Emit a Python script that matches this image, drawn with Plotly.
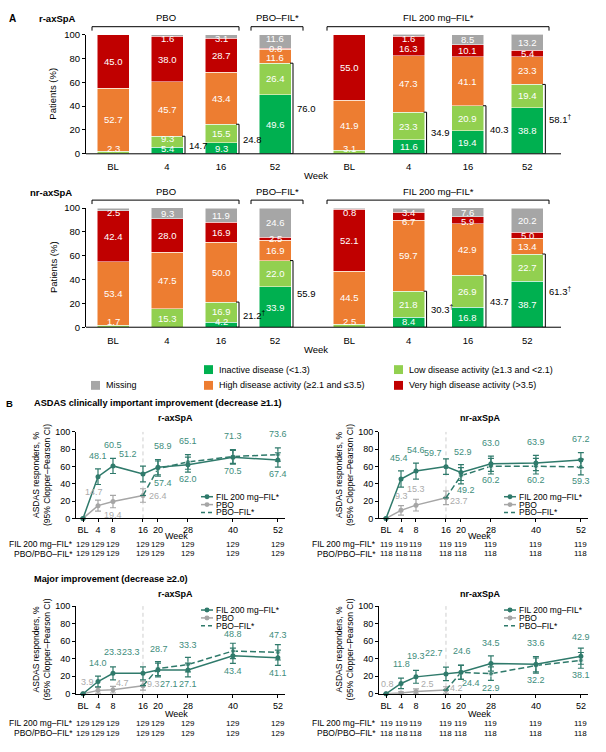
import plotly.graph_objects as go

W, H = 606, 752
FONT = "Liberation Sans, Arial, sans-serif"
TEAL = "#2F7A6B"
TEAL_TXT = "#3E8D7C"
GRAY = "#A6A6A6"
GRAY_TXT = "#ABABAB"

# ---------------- A: ASDAS disease activity states ----------------
weeks_a = ["BL", "4", "16", "52"]
state_names = ["Inactive disease (<1.3)", "Low disease activity (≥1.3 and <2.1)",
               "High disease activity (≥2.1 and ≤3.5)", "Very high disease activity (>3.5)",
               "Missing"]
state_colors = ["#00B050", "#92D050", "#ED7D31", "#C00000", "#A6A6A6"]

# r-axSpA, PBO / PBO-FIL* arm
r_pbo_inactive = [0, 5.4, 9.3, 49.6]
r_pbo_low = [2.3, 9.3, 15.5, 26.4]
r_pbo_high = [52.7, 45.7, 43.4, 11.6]
r_pbo_vhigh = [45.0, 38.0, 28.7, 0.8]
r_pbo_missing = [0, 1.6, 3.1, 11.6]
r_pbo_sum = [None, "14.7", "24.8", "76.0"]
# r-axSpA, FIL 200 mg arm
r_fil_inactive = [0, 11.6, 19.4, 38.8]
r_fil_low = [3.1, 23.3, 20.9, 19.4]
r_fil_high = [41.9, 47.3, 41.1, 23.3]
r_fil_vhigh = [55.0, 16.3, 10.1, 5.4]
r_fil_missing = [0, 1.6, 8.5, 13.2]
r_fil_sum = [None, "34.9", "40.3", "58.1<sup>†</sup>"]
# nr-axSpA, PBO / PBO-FIL* arm
nr_pbo_inactive = [0, 0, 4.2, 33.9]
nr_pbo_low = [1.7, 15.3, 16.9, 22.0]
nr_pbo_high = [53.4, 47.5, 50.0, 16.9]
nr_pbo_vhigh = [42.4, 28.0, 16.9, 2.5]
nr_pbo_missing = [2.5, 9.3, 11.9, 24.6]
nr_pbo_sum = [None, None, "21.2<sup>†</sup>", "55.9"]
# nr-axSpA, FIL 200 mg arm
nr_fil_inactive = [0, 8.4, 16.8, 38.7]
nr_fil_low = [2.5, 21.8, 26.9, 22.7]
nr_fil_high = [44.5, 59.7, 42.9, 13.4]
nr_fil_vhigh = [52.1, 6.7, 5.9, 5.0]
nr_fil_missing = [0.8, 3.4, 7.6, 20.2]
nr_fil_sum = [None, "30.3<sup>†</sup>", "43.7", "61.3<sup>†</sup>"]

# ---------------- B: ASDAS response over time ----------------
weeks_b = [0, 4, 8, 16, 20, 28, 40, 52]
week_b_labels = ["BL", "4", "8", "16", "20", "28", "40", "52"]
n_r_fil = [129, 129, 129, 129, 129, 129, 129, 129]
n_r_pbo = [129, 129, 129, 129, 129, 129, 129, 129]
n_nr_fil = [119, 119, 119, 119, 119, 119, 119, 119]
n_nr_pbo = [118, 118, 118, 118, 118, 118, 118, 118]

# clinically important improvement (decrease >=1.1)
cii_r_fil = [0, 48.1, 60.5, 51.2, 58.9, 62.0, 70.5, 67.4]
cii_r_fil_ci = [0, 9.0, 8.7, 9.0, 8.8, 8.6, 8.0, 8.3]
cii_r_pbo = [0, 14.7, 19.4, 26.4]
cii_r_pbo_ci = [0, 6.4, 7.1, 7.8]
cii_r_pbofil = [57.4, 65.1, 71.3, 73.6]
cii_r_pbofil_ci = [8.8, 8.4, 7.9, 7.7]

cii_nr_fil = [0, 45.4, 54.6, 59.7, 52.9, 63.0, 63.9, 67.2]
cii_nr_fil_ci = [0, 9.3, 9.2, 9.0, 9.2, 8.8, 8.8, 8.6]
cii_nr_pbo = [0, 9.3, 15.3, 23.7]
cii_nr_pbo_ci = [0, 5.5, 6.8, 7.9]
cii_nr_pbofil = [49.2, 60.2, 60.2, 59.3]
cii_nr_pbofil_ci = [9.3, 9.0, 9.0, 9.0]

# major improvement (decrease >=2.0)
mi_r_fil = [0, 14.0, 23.3, 23.3, 27.1, 27.1, 43.4, 41.1]
mi_r_fil_ci = [0, 6.2, 7.5, 7.5, 7.8, 7.8, 8.7, 8.7]
mi_r_pbo = [0, 3.9, 4.7, 9.3]
mi_r_pbo_ci = [0, 3.5, 3.8, 5.2]
mi_r_pbofil = [28.7, 33.3, 48.8, 47.3]
mi_r_pbofil_ci = [8.0, 8.3, 8.8, 8.8]

mi_nr_fil = [0, 11.8, 19.3, 22.7, 24.6, 34.5, 33.6, 42.9]
mi_nr_fil_ci = [0, 6.0, 7.3, 7.7, 8.0, 8.7, 8.7, 9.2]
mi_nr_pbo = [0, 0.8, 2.5, 4.2]
mi_nr_pbo_ci = [0, 1.5, 3.0, 3.8]
mi_nr_pbofil = [24.4, 22.9, 32.2, 38.1]
mi_nr_pbofil_ci = [8.0, 7.7, 8.6, 9.0]

# label nudges in px (dx, dy) relative to each point
cii_r_lab = dict(fil=[None, (0, 21), (0, 21), (-15, 20), (5, 21), (0, -14), (0, -14), (0, -14)],
                 pbofil=[(5, -14), (0, 21), (0, 21), (0, 21)],
                 pbo=[None, (-4, 14), (0, -13), (15, 0)])
cii_nr_lab = dict(fil=[None, (-2, 21), (0, 21), (-13, 14), (2, 21), (0, 21), (0, 21), (0, 21)],
                  pbofil=[(5, -14), (0, -14), (0, -14), (0, -14)],
                  pbo=[None, (0, 14), (0, 16), (13, -3)])
mi_r_lab = dict(fil=[None, (0, 19), (0, 21), (-12, 21), (11, -14), (0, -14), (0, -15), (0, -15)],
                pbofil=[(1, 20), (0, 20), (0, 17), (0, 17)],
                pbo=[None, (-11, 8), (10, 7), (11, 2)])
mi_nr_lab = dict(fil=[None, (0, 19), (0, 21), (-12, 21), (1, 21), (0, 21), (0, 21), (0, 19)],
                 pbofil=[(10, -11), (0, -14), (0, -14), (0, -15)],
                 pbo=[None, (-14, 9), (12, 8), (11, 2)])


def fx(p):
    return p / W


def fy(p):
    return 1 - p / H


fig = go.Figure()
shapes = []
annotations = []


def text(x, y, s, size=9.5, color="black", xa="paper", ya="paper", xanchor="center",
         yanchor="middle", angle=0, xshift=0, yshift=0):
    annotations.append(dict(x=x, y=y, xref=xa, yref=ya, text=s, showarrow=False,
                            font=dict(family=FONT, size=size, color=color),
                            xanchor=xanchor, yanchor=yanchor, textangle=angle,
                            xshift=xshift, yshift=yshift))


def seg(x0, y0, x1, y1, xa="paper", ya="paper", color="black", width=1, dash="solid", layer="above"):
    shapes.append(dict(type="line", x0=x0, y0=y0, x1=x1, y1=y1, xref=xa, yref=ya, layer=layer,
                       line=dict(color=color, width=width, dash=dash)))


def header(x0, x1, ytop, label):
    seg(fx(x0), fy(ytop), fx(x1), fy(ytop))
    seg(fx(x0), fy(ytop), fx(x0), fy(ytop + 4))
    seg(fx(x1), fy(ytop), fx(x1), fy(ytop + 4))
    text(fx((x0 + x1) / 2), fy(ytop - 9), label, size=9.5)


def stacked_panel(stack, sums, xa, ya, step):
    bw = 32 / step
    for vals, col, name in zip(stack, state_colors, state_names):
        fig.add_trace(go.Bar(x=weeks_a, y=vals, width=bw, name=name,
                             marker=dict(color=col, line=dict(color="white", width=0.5)),
                             xaxis=xa, yaxis=ya, showlegend=False, hoverinfo="skip"))
    for i in range(len(weeks_a)):
        base, items = 0.0, []
        for vals in stack:
            if vals[i] > 0:
                items.append([base + vals[i] / 2, vals[i]])
            base += vals[i]
        # keep small-segment labels apart
        items[0][0] = max(items[0][0], 4.5)
        for k in range(1, len(items)):
            items[k][0] = max(items[k][0], items[k - 1][0] + 8.5)
        items[-1][0] = min(items[-1][0], 96.5)
        for k in range(len(items) - 2, -1, -1):
            items[k][0] = min(items[k][0], items[k + 1][0] - 8)
        for ypos, v in items:
            text(i, ypos, f"{v:.1f}", color="white", xa=xa, ya=ya)
        if sums[i]:
            top = stack[0][i] + stack[1][i]
            xl = i + bw / 2 + 2 / step
            tk = 3 / step
            seg(xl, 0, xl, top, xa, ya)
            seg(xl - tk, top, xl, top, xa, ya)
            seg(xl - tk, 0, xl, 0, xa, ya)
            text(xl, top / 2, sums[i], xa=xa, ya=ya, xanchor="left", xshift=2)


stacked_panel([r_pbo_inactive, r_pbo_low, r_pbo_high, r_pbo_vhigh, r_pbo_missing], r_pbo_sum, "x", "y", 54)
stacked_panel([r_fil_inactive, r_fil_low, r_fil_high, r_fil_vhigh, r_fil_missing], r_fil_sum, "x2", "y", 59.3)
stacked_panel([nr_pbo_inactive, nr_pbo_low, nr_pbo_high, nr_pbo_vhigh, nr_pbo_missing], nr_pbo_sum, "x3", "y3", 54)
stacked_panel([nr_fil_inactive, nr_fil_low, nr_fil_high, nr_fil_vhigh, nr_fil_missing], nr_fil_sum, "x4", "y3", 59.3)

for off in (0, 176):
    header(92, 239, 21 + off, "PBO")
    header(251, 303, 21 + off, "PBO–FIL*")
    header(327, 549, 21 + off, "FIL 200 mg–FIL*")
seg(fx(86), fy(150), fx(561), fy(150))
seg(fx(86), fy(326), fx(561), fy(326))
text(fx(12), fy(13), "<b>A</b>", size=10)
text(fx(37), fy(13), "<b>r-axSpA</b>", size=9.5, xanchor="left")
text(fx(28), fy(189), "<b>nr-axSpA</b>", size=9.5, xanchor="left")
text(fx(53), fy(89), "Patients (%)", angle=-90)
text(fx(53), fy(265), "Patients (%)", angle=-90)
text(fx(316), fy(172), "Week")
text(fx(316), fy(349), "Week")

# legend for panel A
leg_a = [(0, 204, 369), (1, 394, 369), (4, 91, 385), (2, 204, 385), (3, 394, 385)]
for k, lx, ly in leg_a:
    shapes.append(dict(type="rect", xref="paper", yref="paper", x0=fx(lx), x1=fx(lx + 9),
                       y0=fy(ly + 4.5), y1=fy(ly - 4.5), fillcolor=state_colors[k], line=dict(width=0)))
    text(fx(lx + 13), fy(ly), state_names[k], size=9, xanchor="left")


# ---------------- line panels ----------------
def line_panel(fil, fil_ci, pbo, pbo_ci, pbofil, pbofil_ci, labs, n_fil, n_pbo,
               xa, ya, x_left, rows, leg_rows):
    seg(16, 0, 16, 100, xa, ya, color="#CFCFCF", width=1, dash="4px,3px", layer="below")
    fig.add_trace(go.Scatter(
        x=weeks_b[:len(pbo)], y=pbo, mode="lines+markers", xaxis=xa, yaxis=ya, cliponaxis=False,
        line=dict(color=GRAY, width=1.5), marker=dict(color=GRAY, size=5),
        error_y=dict(type="data", array=pbo_ci, arrayminus=[min(c, v) for c, v in zip(pbo_ci, pbo)],
                     color=GRAY, thickness=1.2, width=3),
        showlegend=False, hoverinfo="skip"))
    fig.add_trace(go.Scatter(
        x=[16] + weeks_b[4:], y=[pbo[-1]] + pbofil, mode="lines+markers", xaxis=xa, yaxis=ya,
        cliponaxis=False, line=dict(color=TEAL, width=1.5, dash="6px,3px"),
        marker=dict(color=TEAL, size=[0] + [5] * len(pbofil)),
        error_y=dict(type="data", array=[0] + pbofil_ci, color=TEAL, thickness=1.2, width=3),
        showlegend=False, hoverinfo="skip"))
    fig.add_trace(go.Scatter(
        x=weeks_b, y=fil, mode="lines+markers", xaxis=xa, yaxis=ya, cliponaxis=False,
        line=dict(color=TEAL, width=1.5), marker=dict(color=TEAL, size=5),
        error_y=dict(type="data", array=fil_ci, color=TEAL, thickness=1.2, width=3),
        showlegend=False, hoverinfo="skip"))
    for xs, ys, key, col in ((weeks_b, fil, "fil", TEAL_TXT), (weeks_b[4:], pbofil, "pbofil", TEAL_TXT),
                             (weeks_b, pbo, "pbo", GRAY_TXT)):
        for xv, yv, sh in zip(xs, ys, labs[key]):
            if sh is None:
                continue
            text(xv, yv, f"{yv:.1f}", size=9, color=col, xa=xa, ya=ya, xshift=sh[0], yshift=sh[1])
    # number-at-risk table
    text(fx(x_left - 1), fy(rows[0]), "FIL 200 mg–FIL*", size=8.5, xanchor="right")
    text(fx(x_left - 1), fy(rows[1]), "PBO/PBO–FIL*", size=8.5, xanchor="right")
    for xv, a, b in zip(weeks_b, n_fil, n_pbo):
        text(xv, fy(rows[0]), str(a), size=8, xa=xa)
        text(xv, fy(rows[1]), str(b), size=8, xa=xa)
    # legend
    lx = x_left + 125
    items = [("FIL 200 mg–FIL*", TEAL, "solid", True), ("PBO", GRAY, "solid", True),
             ("PBO–FIL*", TEAL, "4px,3px", False)]
    for (name, col, dash, mk), yy in zip(items, leg_rows):
        seg(fx(lx), fy(yy), fx(lx + 12), fy(yy), color=col, width=1.5, dash=dash)
        if mk:
            shapes.append(dict(type="circle", xref="paper", yref="paper", x0=fx(lx + 3.5), x1=fx(lx + 8.5),
                               y0=fy(yy + 2.5), y1=fy(yy - 2.5), fillcolor=col, line=dict(width=0)))
        text(fx(lx + 13), fy(yy), name, size=8.5, xanchor="left")


line_panel(cii_r_fil, cii_r_fil_ci, cii_r_pbo, cii_r_pbo_ci, cii_r_pbofil, cii_r_pbofil_ci, cii_r_lab,
           n_r_fil, n_r_pbo, "x5", "y5", 76, (546, 556), (498, 506, 514))
line_panel(cii_nr_fil, cii_nr_fil_ci, cii_nr_pbo, cii_nr_pbo_ci, cii_nr_pbofil, cii_nr_pbofil_ci, cii_nr_lab,
           n_nr_fil, n_nr_pbo, "x6", "y6", 379, (546, 556), (498, 506, 514))
line_panel(mi_r_fil, mi_r_fil_ci, mi_r_pbo, mi_r_pbo_ci, mi_r_pbofil, mi_r_pbofil_ci, mi_r_lab,
           n_r_fil, n_r_pbo, "x7", "y7", 76, (728, 738), (613, 621, 629))
line_panel(mi_nr_fil, mi_nr_fil_ci, mi_nr_pbo, mi_nr_pbo_ci, mi_nr_pbofil, mi_nr_pbofil_ci, mi_nr_lab,
           n_nr_fil, n_nr_pbo, "x8", "y8", 379, (728, 738), (613, 621, 629))

text(fx(10), fy(403), "<b>B</b>", size=9.5)
text(fx(32), fy(403), "<b>ASDAS clinically important improvement (decrease ≥1.1)</b>", size=9.2, xanchor="left")
text(fx(32), fy(582), "<b>Major improvement (decrease ≥2.0)</b>", size=9.2, xanchor="left")
for cx, cy, s in ((175, 418, "r-axSpA"), (480, 418, "nr-axSpA"), (175, 597, "r-axSpA"), (480, 597, "nr-axSpA")):
    text(fx(cx), fy(cy), f"<b>{s}</b>", size=9)
for cx, cy in ((41, 476), (344, 476), (41, 653), (344, 653)):
    text(fx(cx), fy(cy), "ASDAS responders, %<br>(95% Clopper–Pearson CI)", size=8.5, angle=-90)
for cx, cy in ((176, 538), (479, 538), (176, 719), (479, 719)):
    text(fx(cx), fy(cy), "Week", size=9)

# ---------------- axes ----------------
tick_font = dict(family=FONT, size=9.5, color="black")
small_tick = dict(family=FONT, size=9, color="black")
cat_x = dict(type="category", range=[-0.5, 3.5], showline=False, showgrid=False, zeroline=False,
             ticks="outside", ticklen=4, tickcolor="rgba(0,0,0,0)", tickfont=tick_font, fixedrange=True)
bar_y = dict(range=[0, 100], tickvals=[0, 20, 40, 60, 80, 100], showline=True, linecolor="black",
             linewidth=1, ticks="outside", ticklen=3, tickcolor="black", showgrid=False, zeroline=False,
             tickfont=tick_font, fixedrange=True)
line_y = dict(bar_y, tickfont=small_tick)
wk_x = dict(range=[-1.87, 53.9], tickvals=weeks_b, ticktext=week_b_labels, showline=True, linecolor="black",
            linewidth=1, ticks="outside", ticklen=3, tickcolor="black", showgrid=False, zeroline=False,
            tickfont=small_tick, fixedrange=True)

fig.update_layout(
    xaxis=dict(cat_x, domain=[fx(86), fx(302)], anchor="y"),
    xaxis2=dict(cat_x, domain=[fx(319.5), fx(557)], anchor="y"),
    yaxis=dict(bar_y, domain=[fy(150), fy(29)], anchor="x"),
    xaxis3=dict(cat_x, domain=[fx(86), fx(302)], anchor="y3"),
    xaxis4=dict(cat_x, domain=[fx(319.5), fx(557)], anchor="y3"),
    yaxis3=dict(bar_y, domain=[fy(326), fy(205)], anchor="x3"),
    xaxis5=dict(wk_x, domain=[fx(76), fx(285)], anchor="y5"),
    yaxis5=dict(line_y, domain=[fy(520), fy(432)], anchor="x5"),
    xaxis6=dict(wk_x, domain=[fx(379), fx(588)], anchor="y6"),
    yaxis6=dict(line_y, domain=[fy(520), fy(432)], anchor="x6"),
    xaxis7=dict(wk_x, domain=[fx(76), fx(285)], anchor="y7"),
    yaxis7=dict(line_y, domain=[fy(698), fy(609)], anchor="x7"),
    xaxis8=dict(wk_x, domain=[fx(379), fx(588)], anchor="y8"),
    yaxis8=dict(line_y, domain=[fy(698), fy(609)], anchor="x8"),
    barmode="stack",
    width=W, height=H,
    margin=dict(l=0, r=0, t=0, b=0),
    paper_bgcolor="white", plot_bgcolor="white",
    font=dict(family=FONT, size=9.5, color="black"),
    showlegend=False,
    shapes=shapes,
    annotations=annotations,
)

fig.write_html("out.html", config={"displayModeBar": False},
               post_script="document.body.style.margin='0px';")
